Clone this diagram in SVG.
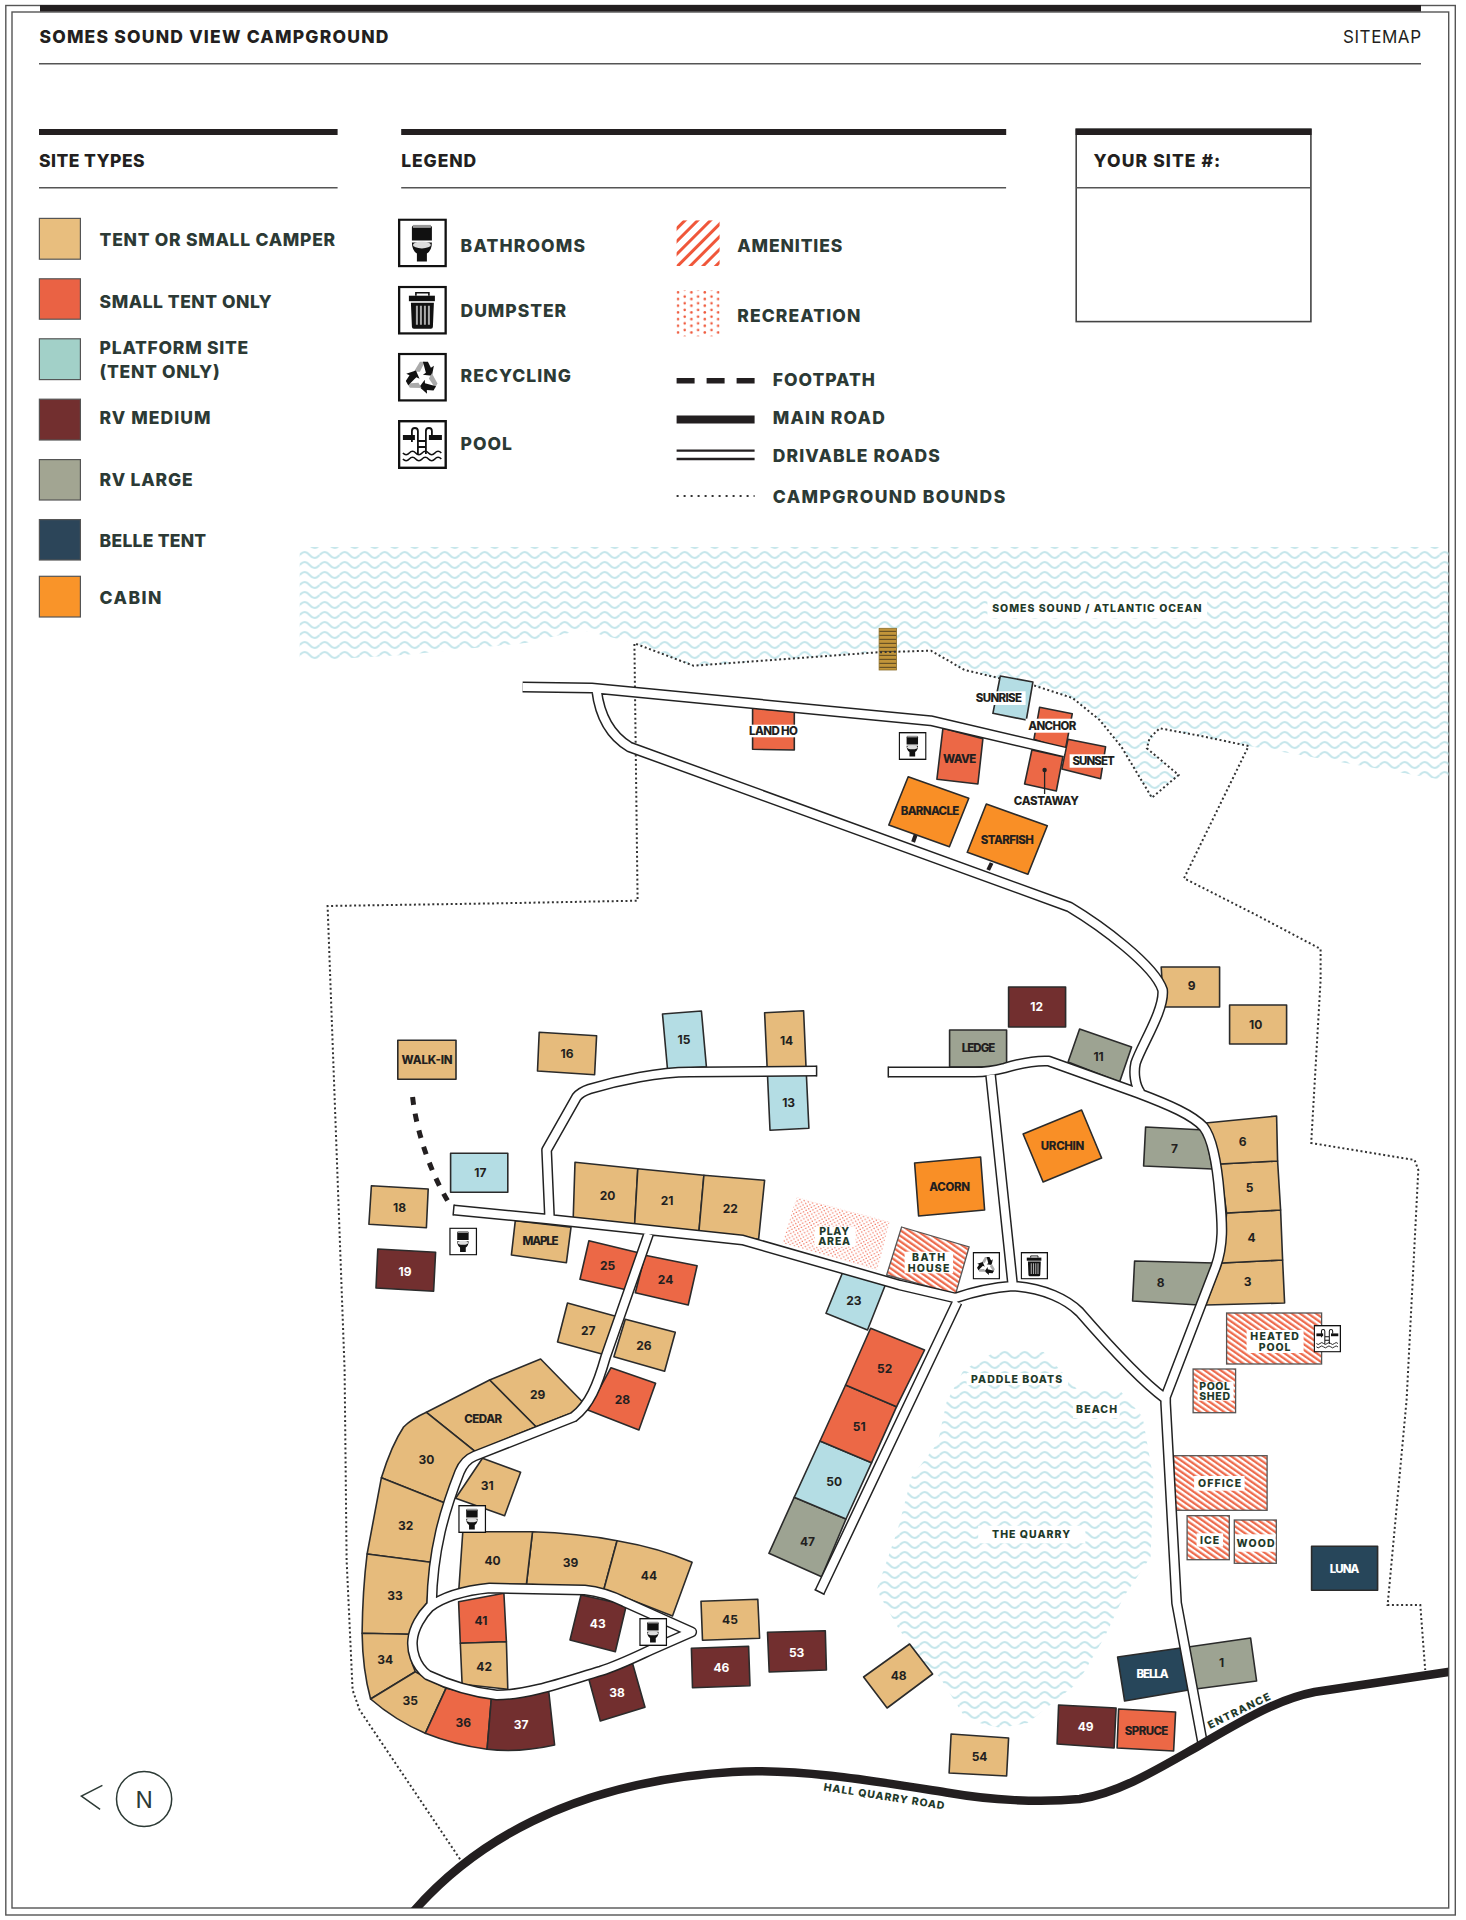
<svg xmlns="http://www.w3.org/2000/svg" xmlns:xlink="http://www.w3.org/1999/xlink" width="1466" height="1920" viewBox="0 0 1466 1920">
<style>
text{font-family:Inter,"Liberation Sans",sans-serif}
.frame{fill:none;stroke:#555;stroke-width:1.4}
.rule{stroke:#555;stroke-width:1.6}
.bar{fill:#231f20}
.h{font-size:17.5px;font-weight:800;fill:#231f20}
.l{font-size:17.5px;font-weight:800;fill:#2c3a35}
.sw{stroke:#555;stroke-width:1.2}
.site polygon,.site path{stroke:#2b2b2b;stroke-width:1.6;stroke-linejoin:round}
.site text{font-size:12px;font-weight:700;fill:#231f20;text-anchor:middle}
.site text[textLength]{font-size:11.5px;font-weight:800}
.tan polygon,.tan path{fill:#e6bb7c}
.red polygon,.red path{fill:#ec6846}
.plat polygon{fill:#b4dde4}
.rvm polygon,.rvm path{fill:#722f2f}
.rvm text,.belle text{fill:#fff}
.rvl polygon{fill:#9da392}
.belle polygon{fill:#27465a}
.cabin polygon{fill:#f98f26}
.ham polygon,.ham rect.b{fill:url(#hatch);stroke:#555;stroke-width:1.3}
.box{fill:#fff}
.w{font-size:10.5px;font-weight:800;fill:#1f3a2a;text-anchor:middle}
.road-o{fill:none;stroke:#222;stroke-width:11;stroke-linejoin:round}
.road-i{fill:none;stroke:#fff;stroke-width:8;stroke-linejoin:round}
.cap{stroke:#222;stroke-width:1.5}
.main{fill:none;stroke:#231f20;stroke-width:8.5}
.bound{fill:none;stroke:#333;stroke-width:2;stroke-dasharray:2 2.6}
</style>
<defs>
<pattern id="wave" width="20" height="10" patternUnits="userSpaceOnUse"><path d="M0 5q5-6 10 0t10 0" fill="none" stroke="#c6e6eb" stroke-width="2"/></pattern>
<pattern id="hatch" width="4.6" height="4.6" patternUnits="userSpaceOnUse" patternTransform="rotate(-55)"><rect width="4.6" height="4.6" fill="#fff"/><rect width="2.3" height="4.6" fill="#ee6b4d"/></pattern>
<pattern id="hatchL" width="9" height="9" patternUnits="userSpaceOnUse" patternTransform="rotate(45)"><rect width="9" height="9" fill="#fff"/><rect width="3" height="9" fill="#f0573a"/></pattern>
<pattern id="dots" width="13.4" height="6.7" patternUnits="userSpaceOnUse"><circle cx="1.7" cy="1.7" r="1.3" fill="#ef5a3d"/><circle cx="8.4" cy="4.2" r="1.3" fill="#ef5a3d"/></pattern>
<pattern id="dotsS" width="4.4" height="4.4" patternUnits="userSpaceOnUse" patternTransform="rotate(15)"><circle cx="1.1" cy="1.1" r=".75" fill="#f0705a"/><circle cx="3.3" cy="3.3" r=".75" fill="#f0705a"/></pattern>
<pattern id="dock" width="4" height="4" patternUnits="userSpaceOnUse"><rect width="4" height="4" fill="#c2953a"/><rect y="2.8" width="4" height="1.2" fill="#6a5325"/></pattern>
<clipPath id="inner"><rect x="12" y="12" width="1436.7" height="1896"/></clipPath>
<symbol id="toilet" viewBox="0 0 49 49"><rect x="1.2" y="1.2" width="46.6" height="46.6" fill="#fff" stroke="#111" stroke-width="2.4"/><path d="M14 9q0-2 2-2h16q2 0 2 2v13H14z" fill="#111"/><rect x="15" y="6.5" width="18" height="3" fill="#999"/><path d="M14 24h20q0 8-5 11v8H19v-8q-5-3-5-11z" fill="#111"/><ellipse cx="24" cy="26.5" rx="9" ry="3.5" fill="#ddd"/></symbol>
<symbol id="dumpster" viewBox="0 0 49 49"><rect x="1.2" y="1.2" width="46.6" height="46.6" fill="#fff" stroke="#111" stroke-width="2.4"/><path d="M18 10V7h13v3" fill="none" stroke="#111" stroke-width="1.6"/><rect x="11" y="10" width="26" height="5.5" fill="#111"/><path d="M13 17h23l-1 24q0 2-2 2H16q-2 0-2-2z" fill="#111"/><path d="M19 20v19M23 20v19M27 20v19M31 20v19" stroke="#aaa" stroke-width="2"/></symbol>
<g id="arrow3"><polygon points="16,19 22,9 27,9 22,19" fill="#aaa"/><polygon points="25,9 30,9 33,15 36,13 34,23 25,22 28,20" fill="#111"/></g>
<symbol id="recycle" viewBox="0 0 49 49"><rect x="1.2" y="1.2" width="46.6" height="46.6" fill="#fff" stroke="#111" stroke-width="2.4"/><use xlink:href="#arrow3" href="#arrow3"/><use xlink:href="#arrow3" href="#arrow3" transform="rotate(120 24.5 25)"/><use xlink:href="#arrow3" href="#arrow3" transform="rotate(240 24.5 25)"/></symbol>
<symbol id="pool" viewBox="0 0 49 49"><rect x="1.2" y="1.2" width="46.6" height="46.6" fill="#fff" stroke="#111" stroke-width="2.4"/><rect x="5" y="15" width="12" height="5" fill="#111"/><rect x="31" y="15" width="13" height="5" fill="#111"/><path d="M14 22V11a3 3 0 0 1 6 0v23M28 22V11a3 3 0 0 1 6 0v4M20 21h8M20 27h8M28 11v23" fill="none" stroke="#111" stroke-width="1.8"/><path d="M5 33q3.2 3.5 6.4 0t6.4 0t6.4 0t6.4 0t6.4 0t6.4 0M5 39q3.2 3.5 6.4 0t6.4 0t6.4 0t6.4 0t6.4 0t6.4 0" fill="none" stroke="#111" stroke-width="1.6"/></symbol>
</defs>
<rect width="1466" height="1920" fill="#fff"/>
<g id="frame"><rect class="frame" x="5.8" y="5.5" width="1449.5" height="1909.5"/><rect class="frame" x="12" y="12" width="1436.7" height="1896"/><rect class="bar" x="40" y="5" width="1381" height="6.5"/></g>
<g id="header"><text class="h" x="39.4" y="43" textLength="349">SOMES SOUND VIEW CAMPGROUND</text><text x="1343" y="43" font-size="17" fill="#231f20" textLength="78">SITEMAP</text><line class="rule" x1="39" y1="63.7" x2="1421" y2="63.7"/></g>
<g id="map" transform="translate(-0.4 0)">
<g id="site-types"><rect class="bar" x="39.4" y="129" width="298.6" height="6"/><text class="h" x="39.4" y="166.5" textLength="105.6">SITE TYPES</text><line class="rule" x1="39.4" y1="187.8" x2="338" y2="187.8"/>
<rect class="sw" x="39.8" y="218.4" width="41" height="40.8" fill="#e8be7e"/><text class="l" x="100" y="246" textLength="235.6">TENT OR SMALL CAMPER</text>
<rect class="sw" x="39.8" y="278.8" width="41" height="40.4" fill="#ea6244"/><text class="l" x="100" y="307.8" textLength="172">SMALL TENT ONLY</text>
<rect class="sw" x="39.8" y="338.8" width="41" height="40.8" fill="#a2d0c8"/><text class="l" x="100" y="354" textLength="148.7">PLATFORM SITE</text><text class="l" x="100" y="378" textLength="120">(TENT ONLY)</text>
<rect class="sw" x="39.8" y="399.2" width="41" height="40.8" fill="#722f2f"/><text class="l" x="100" y="424" textLength="111">RV MEDIUM</text>
<rect class="sw" x="39.8" y="459.6" width="41" height="40.4" fill="#a2a592"/><text class="l" x="100" y="485.7" textLength="93">RV LARGE</text>
<rect class="sw" x="39.8" y="519.6" width="41" height="40.4" fill="#2c4559"/><text class="l" x="100" y="547.3" textLength="106.6">BELLE TENT</text>
<rect class="sw" x="39.8" y="576.3" width="41" height="40.7" fill="#f99429"/><text class="l" x="100" y="604" textLength="61.7">CABIN</text></g>
<g id="legend"><rect class="bar" x="401.6" y="129" width="605" height="6"/><text class="h" x="401.6" y="166.5" textLength="75">LEGEND</text><line class="rule" x1="401.6" y1="187.8" x2="1006.5" y2="187.8"/>
<use href="#toilet" x="398.3" y="218.4" width="49" height="49"/><text class="l" x="461" y="252.2" textLength="124.4">BATHROOMS</text>
<use href="#dumpster" x="398.3" y="285.7" width="49" height="49"/><text class="l" x="461" y="317" textLength="105.6">DUMPSTER</text>
<use href="#recycle" x="398.3" y="352.7" width="49" height="49"/><text class="l" x="461" y="382.4" textLength="110.3">RECYCLING</text>
<use href="#pool" x="398.3" y="420" width="49" height="49"/><text class="l" x="461" y="450" textLength="51.4">POOL</text>
<rect x="677" y="220.4" width="43" height="45.6" fill="url(#hatchL)"/><text class="l" x="737.7" y="252.2" textLength="105">AMENITIES</text>
<rect x="677" y="290.6" width="43" height="45.7" fill="url(#dots)"/><text class="l" x="737.7" y="322.4" textLength="123">RECREATION</text>
<line x1="677" y1="380.8" x2="755" y2="380.8" stroke="#231f20" stroke-width="5.5" stroke-dasharray="18 12"/><text class="l" x="773.2" y="386" textLength="102">FOOTPATH</text>
<line x1="677" y1="419.6" x2="755" y2="419.6" stroke="#231f20" stroke-width="8"/><text class="l" x="773.2" y="424" textLength="112">MAIN ROAD</text>
<path d="M677 450.6H755M677 459H755" stroke="#231f20" stroke-width="2.4"/><text class="l" x="773.2" y="462" textLength="167">DRIVABLE ROADS</text>
<line x1="677" y1="496" x2="755" y2="496" stroke="#333" stroke-width="2" stroke-dasharray="2 5"/><text class="l" x="773.2" y="503" textLength="232.4">CAMPGROUND BOUNDS</text></g>
<g id="your-site"><rect x="1076.6" y="129" width="234.7" height="192.6" fill="#fff" stroke="#444" stroke-width="1.6"/><rect class="bar" x="1076" y="129" width="236" height="6"/><line class="rule" x1="1076.6" y1="187.8" x2="1311.3" y2="187.8"/><text class="h" x="1094" y="167.3" textLength="126.7">YOUR SITE #:</text></g>
<g id="water">
<polygon fill="url(#wave)" points="300,547 1449,547 1449,781 1249,746 1160,728 1147,748 1179,775 1152,798 1122,747 1100,720 1073,698 1033,685 999,678 965,670 931,651 878,652 694,666 635,643 582,630 526,643 404,655 300,661"/>
<polygon fill="url(#wave)" points="1002,1348 964,1370 947,1402 938,1443 912,1477 898,1530 877,1590 898,1627 920,1660 940,1677 967,1720 1001,1728 1028,1723 1078,1683 1105,1637 1124,1597 1151,1557 1154,1480 1143,1417 1120,1390 1078,1390 1067,1377 1044,1352"/>
<rect x="879.5" y="628.3" width="17.5" height="41.7" fill="url(#dock)" stroke="#8a6d2a" stroke-width=".8"/>
</g>
<g id="label-ocean"><rect class="box" x="987.8" y="600.8" width="219.7" height="17.6"/><text class="w" x="1097.3" y="612" textLength="209.5">SOMES SOUND / ATLANTIC OCEAN</text></g>
<g id="label-paddle"><rect class="box" x="967" y="1373" width="101.5" height="12"/><text class="w" x="1017" y="1382.7" textLength="91">PADDLE BOATS</text></g>
<g id="label-beach"><rect class="box" x="1073.5" y="1400" width="46.5" height="18"/><text class="w" x="1097" y="1412.7" textLength="41">BEACH</text></g>
<g id="label-quarry"><rect class="box" x="978.6" y="1525.7" width="107.2" height="17.6"/><text class="w" x="1031.5" y="1538" textLength="78">THE QUARRY</text></g>
<g id="bounds"><path class="bound" d="M463 1863L360 1710L353 1690L347 1560L345 1370L328 906L500 903.3L638 900.7L634.8 643.3L694 665.7L878 652.3L931.4 650.7L965 670L999 678L1033 685L1073 698L1100 720L1121.7 746.7L1152.3 797.7L1179 775L1147.3 748.3L1150 738L1160 728.3L1200 735.7L1249 746L1184.4 878.3L1260 916.7L1321 949L1321 980L1311.6 1143L1415 1160L1418.7 1170L1407 1400L1388 1605L1420.7 1605L1425.6 1670"/></g>
<g id="play-area" class="rec"><polygon fill="url(#dotsS)" points="797,1197.3 890,1221.7 877.5,1270 783,1243"/><rect class="box" x="815" y="1226.7" width="41" height="20"/><text class="w" x="834.6" y="1235" textLength="30">PLAY</text><text class="w" x="834.6" y="1245" textLength="32">AREA</text></g>
<g id="sites">
<g id="site-1" class="site rvl"><polygon points="1188.5,1647 1251,1638 1257,1681 1196,1689"/><text x="1222" y="1667">1</text></g>
<g id="site-3" class="site tan"><polygon points="1222,1263 1283,1260 1285,1303 1206,1305"/><text x="1248" y="1286">3</text></g>
<g id="site-4" class="site tan"><polygon points="1227,1213 1281,1210 1283,1260 1222,1263"/><text x="1252" y="1242">4</text></g>
<g id="site-5" class="site tan"><polygon points="1220,1164 1278,1161 1281,1210 1227,1213"/><text x="1250" y="1192">5</text></g>
<g id="site-6" class="site tan"><polygon points="1206,1123 1277,1116 1278,1161 1220,1164"/><text x="1243" y="1146">6</text></g>
<g id="site-7" class="site rvl"><polygon points="1146,1127 1205,1130 1213,1169 1144,1166"/><text x="1175" y="1153">7</text></g>
<g id="site-8" class="site rvl"><polygon points="1135,1261 1215,1263 1199,1305 1133,1301"/><text x="1161" y="1287">8</text></g>
<g id="site-9" class="site tan"><polygon points="1161.6,967 1220,967 1220,1007 1164,1007"/><text x="1192" y="990">9</text></g>
<g id="site-10" class="site tan"><polygon points="1230,1005 1287,1005 1287,1044 1230,1044"/><text x="1256" y="1029">10</text></g>
<g id="site-11" class="site rvl"><polygon points="1080,1029 1132,1047 1120,1082 1068.5,1062"/><text x="1099" y="1061">11</text></g>
<g id="site-12" class="site rvm"><polygon points="1009,987 1066,987 1066,1027 1009,1027"/><text x="1037" y="1011">12</text></g>
<g id="site-13" class="site plat"><polygon points="767.9,1075 806.8,1075 809.3,1128.3 770.4,1130.3"/><text x="789" y="1107">13</text></g>
<g id="site-14" class="site tan"><polygon points="765,1012.7 804,1010.7 806.4,1066.7 767.5,1066.7"/><text x="787" y="1045">14</text></g>
<g id="site-15" class="site plat"><polygon points="662.9,1014 701.8,1011 706.8,1066.7 667.9,1069.3"/><text x="684.3" y="1044.3">15</text></g>
<g id="site-16" class="site tan"><polygon points="539.6,1032.3 597,1035.7 595,1074.7 537.9,1071"/><text x="567.5" y="1058.3">16</text></g>
<g id="site-17" class="site plat"><polygon points="451,1153.3 508.2,1153.3 508.2,1192.3 451,1192.3"/><text x="480.7" y="1177">17</text></g>
<g id="site-18" class="site tan"><polygon points="371.8,1185.7 428.6,1189 426.8,1227.7 369.3,1224.3"/><text x="400" y="1211.6">18</text></g>
<g id="site-19" class="site rvm"><polygon points="378.2,1249 436,1252.3 434,1291.3 376.4,1288"/><text x="405.4" y="1276">19</text></g>
<g id="site-20" class="site tan"><polygon points="575.4,1162.3 638.2,1168.7 635,1225 573.6,1218.7"/><text x="607.9" y="1200">20</text></g>
<g id="site-21" class="site tan"><polygon points="638.2,1168.7 704.3,1175.3 699.3,1231.7 635,1225"/><text x="667.5" y="1205.3">21</text></g>
<g id="site-22" class="site tan"><polygon points="704.3,1175.3 765,1180.3 759,1239.3 699.3,1231.7"/><text x="730.7" y="1213.3">22</text></g>
<g id="site-23" class="site plat"><polygon points="842.9,1272.7 885.7,1285 867.9,1330 826.4,1313.3"/><text x="854.3" y="1305">23</text></g>
<g id="site-24" class="site red"><polygon points="645.4,1255.3 697.5,1265.7 688.6,1305 635.7,1292.7"/><text x="666" y="1284.3">24</text></g>
<g id="site-25" class="site red"><polygon points="589.3,1240.7 639,1252.7 627.5,1290 580.4,1279.3"/><text x="607.9" y="1269.6">25</text></g>
<g id="site-26" class="site tan"><polygon points="625.7,1319.3 675.7,1332.3 665,1371.3 614.3,1356.7"/><text x="644.3" y="1350">26</text></g>
<g id="site-27" class="site tan"><polygon points="567.9,1303 617.9,1316.7 606,1355 557.9,1342"/><text x="588.6" y="1334.6">27</text></g>
<g id="site-28" class="site red"><polygon points="611.4,1367.7 656,1383.3 639.3,1430 588.2,1410"/><text x="622.9" y="1403.6">28</text></g>
<g id="site-29" class="site tan"><path d="M541 1359L583 1402Q578 1410 572 1413L536.4 1426.7L490 1380Z"/><text x="538" y="1399.3">29</text></g>
<g id="site-cedar" class="site tan"><polygon points="490,1380 536.4,1426.7 475.7,1451.7 426.8,1412.3"/><text x="483.6" y="1422.6" textLength="38">CEDAR</text></g>
<g id="site-30" class="site tan"><path d="M426.8 1412.3L475.7 1451.7L463 1460L444.6 1502.7L381.8 1477.7Q392 1445 404 1427Q412 1419 426.8 1412.3Z"/><text x="426.8" y="1464.3">30</text></g>
<g id="site-31" class="site tan"><polygon points="482.9,1458.3 521,1472.3 505,1515.7 456,1498.3"/><text x="487.5" y="1490">31</text></g>
<g id="site-32" class="site tan"><polygon points="381.8,1477.7 444.6,1502.7 431,1562.3 367.5,1554"/><text x="406" y="1530">32</text></g>
<g id="site-33" class="site tan"><path d="M367.5 1554L431 1562.3L427.5 1603L409.6 1634.3L362.5 1633.3Q363 1590 367.5 1554Z"/><text x="395.4" y="1600.3">33</text></g>
<g id="site-34" class="site tan"><path d="M362.5 1633.3L409.6 1634.3Q408 1655 415.7 1671.7L371 1699Q363 1670 362.5 1633.3Z"/><text x="385.7" y="1664.3">34</text></g>
<g id="site-35" class="site tan"><path d="M371 1699L415.7 1671.7L446.4 1688.3L425.7 1733.3Q395 1720 371 1699Z"/><text x="410.7" y="1705.3">35</text></g>
<g id="site-36" class="site red"><path d="M446.4 1688.3L491.8 1697.7L487.5 1749.3Q455 1745 425.7 1733.3Z"/><text x="463.6" y="1727">36</text></g>
<g id="site-37" class="site rvm"><path d="M491.8 1697.7L549 1690L555 1745Q520 1753 487.5 1749.3Z"/><text x="521.4" y="1729.3">37</text></g>
<g id="site-38" class="site rvm"><polygon points="589,1678.3 632.9,1663.3 645.4,1707.3 600.7,1721"/><text x="617.5" y="1697">38</text></g>
<g id="site-39" class="site tan"><path d="M532.9 1531.7Q578 1533 617.5 1540.7L604.3 1589.3L586 1586.7L526.8 1584.3Z"/><text x="571" y="1566.6">39</text></g>
<g id="site-40" class="site tan"><path d="M463.2 1531.7H532.9L526.8 1584.3H493Q475 1586 459 1592.7Z"/><text x="492.9" y="1565">40</text></g>
<g id="site-41" class="site red"><polygon points="459,1601.7 504.3,1593.3 506.8,1641.7 460.7,1643.3"/><text x="481.4" y="1625">41</text></g>
<g id="site-42" class="site tan"><polygon points="460.7,1643.3 506.8,1641.7 508.2,1689.3 462.5,1684.3"/><text x="484.6" y="1671">42</text></g>
<g id="site-43" class="site rvm"><polygon points="581.4,1595 626.8,1605 615.7,1651.7 570.4,1640"/><text x="598.2" y="1627.6">43</text></g>
<g id="site-44" class="site tan"><path d="M617.5 1540.7Q660 1548 692.5 1562.3L672.9 1616L604.3 1589.3Z"/><text x="649.3" y="1580">44</text></g>
<g id="site-45" class="site tan"><polygon points="701.4,1601.3 758.2,1599.3 760,1638.3 702.9,1640.3"/><text x="730.4" y="1624">45</text></g>
<g id="site-46" class="site rvm"><polygon points="691.8,1648.3 749,1646.3 750.4,1685.7 692.9,1687.7"/><text x="721.8" y="1672.3">46</text></g>
<g id="site-47" class="site rvl"><polygon points="794.6,1497.3 846.4,1519 822,1576.7 769.3,1553.3"/><text x="807.9" y="1546">47</text></g>
<g id="site-48" class="site tan"><polygon points="910,1644 933,1674 887.5,1708 864,1677"/><text x="899" y="1680">48</text></g>
<g id="site-49" class="site rvm"><polygon points="1059,1705 1116.5,1708 1114.5,1748 1057.5,1744"/><text x="1086" y="1731">49</text></g>
<g id="site-50" class="site plat"><polygon points="820.4,1441 872,1462.7 846.4,1519 794.6,1497.3"/><text x="834.6" y="1486">50</text></g>
<g id="site-51" class="site red"><polygon points="846,1385 897,1406.7 872,1462.7 820.4,1441"/><text x="859.6" y="1431">51</text></g>
<g id="site-52" class="site red"><polygon points="871,1328.3 925,1350 897,1406.7 846,1385"/><text x="885" y="1373.3">52</text></g>
<g id="site-53" class="site rvm"><polygon points="767.9,1632.3 825.7,1630.7 826.8,1670 769.6,1672"/><text x="797" y="1657">53</text></g>
<g id="site-54" class="site tan"><polygon points="951.5,1734 1009,1738 1007,1776 949.5,1773"/><text x="980" y="1761">54</text></g>
<g id="site-walkin" class="site tan"><polygon points="398.2,1040.3 456.4,1040.3 456.4,1079.3 398.2,1079.3"/><text x="427.5" y="1064.3" textLength="51">WALK-IN</text></g>
<g id="site-maple" class="site tan"><polygon points="515.7,1220.7 571.4,1227.3 566.8,1262.7 511.8,1255"/><text x="541" y="1244.7" textLength="36">MAPLE</text></g>
<g id="site-ledge" class="site rvl"><polygon points="950,1030 1007,1030 1007,1067 950,1067"/><text x="979" y="1052" textLength="33.5">LEDGE</text></g>
<g id="site-urchin" class="site cabin"><polygon points="1082,1110 1102,1158 1043.5,1182 1023.5,1134"/><text x="1063" y="1150" textLength="43.5">URCHIN</text></g>
<g id="site-acorn" class="site cabin"><polygon points="915,1163 981,1157 985,1210 919,1216"/><text x="950" y="1191" textLength="40.8">ACORN</text></g>
<g id="site-barnacle" class="site cabin"><polygon points="908.6,776.7 969.2,798.3 949.8,846.7 889.2,825"/><text x="930.4" y="815" textLength="58.6">BARNACLE</text></g>
<g id="site-starfish" class="site cabin"><polygon points="986.7,804 1047.7,825.7 1028.3,874.3 967.7,852.3"/><text x="1007.7" y="844" textLength="53.3">STARFISH</text></g>
<g id="site-wave" class="site red"><polygon points="943.3,728.3 983.3,738.7 978.3,784 937.3,779.3"/><text x="960" y="763" textLength="33.3">WAVE</text></g>
<g id="site-landho" class="site red"><polygon points="753,708 794.7,711.7 794.7,750 753,749.3"/><rect class="box" x="746" y="724.7" width="55.5" height="12.6"/><text x="773.9" y="735" textLength="49">LAND HO</text></g>
<g id="site-sunrise" class="site plat"><polygon points="1000.7,676 1033.3,682 1026.7,720 993.3,713.3"/><rect class="box" x="972.7" y="691.3" width="53.3" height="13.7"/><text x="999.3" y="702" textLength="46.3">SUNRISE</text></g>
<g id="site-anchor" class="site red"><polygon points="1040,707.3 1072.7,713.7 1065.7,750 1034.3,739.3"/><rect class="box" x="1026" y="718.7" width="52.3" height="14"/><text x="1052.7" y="730" textLength="48.3">ANCHOR</text></g>
<g id="site-sunset" class="site red"><polygon points="1068.3,739.3 1106,746.7 1101,778.7 1062.3,769"/><rect class="box" x="1070" y="754.3" width="48.3" height="13.4"/><text x="1094" y="765.3" textLength="42.3">SUNSET</text></g>
<g id="site-castaway" class="site red"><polygon points="1032.3,750 1063.3,756.7 1056.7,791 1025,784"/><circle cx="1045" cy="770" r="2.2" fill="#222"/><line x1="1045" y1="770" x2="1045" y2="794" stroke="#222" stroke-width="1.3"/><text x="1046.7" y="805.3" textLength="65">CASTAWAY</text></g>
<g id="site-bella" class="site belle"><polygon points="1118,1657 1181,1648 1189,1690 1125,1701"/><text x="1153" y="1678" textLength="32">BELLA</text></g>
<g id="site-luna" class="site belle"><polygon points="1312,1546.3 1378,1546.3 1378,1590.3 1312,1590.3"/><text x="1345" y="1573.3" textLength="29.6">LUNA</text></g>
<g id="site-spruce" class="site red"><polygon points="1119,1709 1176,1712 1174,1751 1117.5,1748"/><text x="1147" y="1735" textLength="43.5">SPRUCE</text></g>
</g>
<g id="amenities">
<g id="bath-house" class="ham"><polygon points="902,1227 969.5,1247 956,1294 887,1275"/><rect class="box" x="905" y="1251.7" width="48.5" height="21.6"/><text class="w" x="929" y="1261" textLength="33">BATH</text><text class="w" x="929" y="1271.5" textLength="41.5">HOUSE</text></g>
<g id="heated-pool" class="ham"><rect class="b" x="1227" y="1313" width="95" height="51"/><rect class="box" x="1247" y="1330" width="57" height="23"/><text class="w" x="1275" y="1340" textLength="48.5">HEATED</text><text class="w" x="1275" y="1351" textLength="31.5">POOL</text></g>
<g id="pool-shed" class="ham"><rect class="b" x="1193.5" y="1369" width="42.5" height="43.7"/><rect class="box" x="1198" y="1381.7" width="36" height="19"/><text class="w" x="1215" y="1390" textLength="30.8">POOL</text><text class="w" x="1215" y="1399.5" textLength="30.8">SHED</text></g>
<g id="office" class="ham"><rect class="b" x="1174" y="1455.7" width="93.5" height="54.6"/><rect class="box" x="1194.5" y="1476" width="50.5" height="14.7"/><text class="w" x="1220" y="1487" textLength="43">OFFICE</text></g>
<g id="ice" class="ham"><rect class="b" x="1187.5" y="1515.7" width="42.2" height="44"/><rect class="box" x="1197" y="1533.3" width="26.5" height="13.4"/><text class="w" x="1210" y="1543.5" textLength="19">ICE</text></g>
<g id="wood" class="ham"><rect class="b" x="1234.7" y="1520" width="42" height="43.3"/><rect class="box" x="1235.5" y="1534.3" width="40.5" height="17.4"/><text class="w" x="1256" y="1546.5" textLength="38">WOOD</text></g>
</g>
<g id="connectors">
<path class="road-o" d="M523 687L592 688L931 720.7L1065 752M597 690C600 715 610 735 630 747L1070 907C1100 925 1155 965 1163 990C1165 1010 1142 1045 1136 1063C1134 1072 1135 1085 1141 1093M888.7 1072L975 1072Q990 1072 1005 1068Q1032 1060 1049 1061L1137.5 1092.7C1170 1105 1193 1115 1204 1127C1214 1140 1218 1170 1220 1195C1223 1225 1224 1245 1216 1267L1166 1397L1166 1403L1177 1603L1203 1743M991 1075L1013 1284M454 1210L547 1219L743 1240L900 1285L955.7 1298Q985 1288 1013 1286C1045 1288 1068 1300 1080 1312C1100 1335 1140 1380 1165 1398M957.6 1302L820 1592M550 1219L547 1150L577 1097Q581 1092 590 1089C620 1080 660 1072 690 1072L817 1071M649 1234L606 1357C598 1385 590 1405 574 1417L475 1456Q465 1460 460 1472C445 1510 433 1550 432 1605M430 1607Q450 1592 490 1588L585 1590Q605 1592 625 1602L692 1632L651 1650C640 1655 620 1665 601 1671C570 1680 530 1695 497 1695C470 1692 445 1683 428 1675C415 1665 412 1650 413 1640C414 1628 422 1615 430 1607Z"/>
<path class="road-i" d="M523 687L592 688L931 720.7L1065 752M597 690C600 715 610 735 630 747L1070 907C1100 925 1155 965 1163 990C1165 1010 1142 1045 1136 1063C1134 1072 1135 1085 1141 1093M888.7 1072L975 1072Q990 1072 1005 1068Q1032 1060 1049 1061L1137.5 1092.7C1170 1105 1193 1115 1204 1127C1214 1140 1218 1170 1220 1195C1223 1225 1224 1245 1216 1267L1166 1397L1166 1403L1177 1603L1203 1743M991 1075L1013 1284M454 1210L547 1219L743 1240L900 1285L955.7 1298Q985 1288 1013 1286C1045 1288 1068 1300 1080 1312C1100 1335 1140 1380 1165 1398M957.6 1302L820 1592M550 1219L547 1150L577 1097Q581 1092 590 1089C620 1080 660 1072 690 1072L817 1071M649 1234L606 1357C598 1385 590 1405 574 1417L475 1456Q465 1460 460 1472C445 1510 433 1550 432 1605M430 1607Q450 1592 490 1588L585 1590Q605 1592 625 1602L692 1632L651 1650C640 1655 620 1665 601 1671C570 1680 530 1695 497 1695C470 1692 445 1683 428 1675C415 1665 412 1650 413 1640C414 1628 422 1615 430 1607Z"/>
<path class="cap" d="M454.5 1204.5L453.5 1215.5M817 1065.5V1076.5M888.7 1066.5V1077.5M815 1589.5L825 1594.5"/>
<path d="M916 835L913.5 842M992 863L988.6 870" stroke="#231f20" stroke-width="4"/>
<path d="M413 1097C416 1125 428 1170 452.5 1208" fill="none" stroke="#231f20" stroke-width="5" stroke-dasharray="8 9"/>
<path class="main" clip-path="url(#inner)" d="M410 1916C470 1845 570 1782 733 1772C800 1768 880 1782 950 1793C990 1800 1040 1803 1080 1799C1120 1793 1160 1768 1200.6 1745C1260 1710 1285 1698 1315 1692L1455 1671"/>
</g>
<g id="road-labels"><text class="w" transform="translate(884 1800) rotate(9)" textLength="122">HALL QUARRY ROAD</text><text class="w" transform="translate(1241 1714) rotate(-26)" textLength="68">ENTRANCE</text></g>
<g id="icons">
<use href="#toilet" x="899" y="732" width="28" height="28"/>
<use href="#toilet" x="449.6" y="1227.5" width="28" height="28"/>
<use href="#toilet" x="458.6" y="1505" width="28" height="28"/>
<use href="#toilet" x="639.6" y="1618" width="28" height="28"/>
<use href="#recycle" x="973" y="1252" width="27.5" height="27.5"/>
<use href="#dumpster" x="1021" y="1252" width="27.5" height="27.5"/>
<use href="#pool" x="1314" y="1325" width="27.5" height="27.5"/>
</g>
<g id="north"><path d="M102.8 1785.3L81.8 1796L100.5 1809.3" fill="none" stroke="#2c3a35" stroke-width="1.5"/><circle cx="144.5" cy="1799" r="27.6" fill="none" stroke="#2c3a35" stroke-width="1.5"/><text x="144.5" y="1807.5" font-size="23" fill="#2c3a35" text-anchor="middle">N</text></g>
</g>
</svg>
